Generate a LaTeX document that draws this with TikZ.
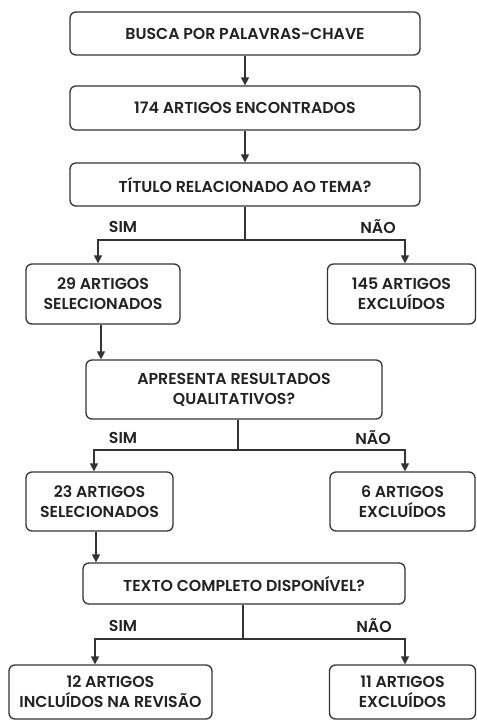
\documentclass[tikz,border=0pt]{standalone}
\usepackage{fontspec}
\setmainfont{Poppins}[BoldFont={* SemiBold}]
\usetikzlibrary{arrows.meta}
\definecolor{ink}{HTML}{222222}
\definecolor{line}{HTML}{333333}
\tikzset{
  box/.style={draw=line, line width=1.3pt, rounded corners=6pt, align=center,
    font=\bfseries\fontsize{15.8}{20}\selectfont, text=ink, inner sep=0pt},
  conn/.style={draw=line, line width=1.3pt},
  arr/.style={conn, -{Triangle[length=8pt,width=8pt]}},
  lbl/.style={font=\bfseries\fontsize{15.8}{18}\selectfont, text=ink, inner sep=0pt}
}
\begin{document}
\begin{tikzpicture}[x=1pt,y=-1pt]
\useasboundingbox[fill=white] (0,0) rectangle (477,721);
% boxes
\node[box, minimum width=350pt, minimum height=43pt] (b1) at (245,33.5) {BUSCA POR PALAVRAS-CHAVE};
\node[box, minimum width=350pt, minimum height=44pt] (b2) at (245,108) {174 ARTIGOS ENCONTRADOS};
\node[box, minimum width=350pt, minimum height=43pt] (b3) at (245,184.5) {TÍTULO RELACIONADO AO TEMA?};
\node[box, minimum width=154pt, minimum height=60pt] (b4) at (103,294) {29 ARTIGOS\\SELECIONADOS};
\node[box, minimum width=148pt, minimum height=60pt] (b5) at (401.5,294) {145 ARTIGOS\\EXCLUÍDOS};
\node[box, minimum width=296pt, minimum height=59pt] (b6) at (234,389.5) {APRESENTA RESULTADOS\\QUALITATIVOS?};
\node[box, minimum width=147pt, minimum height=59pt] (b7) at (99.5,501.5) {23 ARTIGOS\\SELECIONADOS};
\node[box, minimum width=145pt, minimum height=59pt] (b8) at (402.5,501.5) {6 ARTIGOS\\EXCLUÍDOS};
\node[box, minimum width=322pt, minimum height=41pt] (b9) at (244,583.5) {TEXTO COMPLETO DISPONÍVEL?};
\node[box, minimum width=203pt, minimum height=54pt] (b10) at (110.5,692) {12 ARTIGOS\\INCLUÍDOS NA REVISÃO};
\node[box, minimum width=146pt, minimum height=54pt] (b11) at (402.5,692) {11 ARTIGOS\\EXCLUÍDOS};
% junctions
\coordinate (j1) at (245,240);
\coordinate (j2) at (238,450);
\coordinate (j3) at (243,639);
% straight connectors
\draw[arr] (b1) -- (b2);
\draw[arr] (b2) -- (b3);
\draw[arr] ([xshift=-2pt]b4.south) -- ([xshift=-2pt]b4.south |- b6.north);
\draw[arr] ([xshift=-3.5pt]b7.south) -- ([xshift=-3.5pt]b7.south |- b9.north);
% split 1
\draw[conn] (b3.south -| j1) -- (j1);
\draw[arr] (j1) -| ([xshift=-5pt]b4.north);
\draw[arr] (j1) -| ([xshift=3.5pt]b5.north);
% split 2
\draw[conn] (b6.south -| j2) -- (j2);
\draw[arr] (j2) -| ([xshift=-5.5pt]b7.north);
\draw[arr] (j2) -| ([xshift=2.5pt]b8.north);
% split 3
\draw[conn] (b9.south -| j3) -- (j3);
\draw[arr] (j3) -| ([xshift=-15.5pt]b10.north);
\draw[arr] (j3) -| ([xshift=2.5pt]b11.north);
% labels
\node[lbl] (s1) at (123,227) {SIM};
\node[lbl] (n1) at (378,227) {NÃO};
\node[lbl] (s2) at (123,438) {SIM};
\node[lbl] (n2) at (373,438) {NÃO};
\node[lbl] (s3) at (123,626) {SIM};
\node[lbl] (n3) at (374,626) {NÃO};
\end{tikzpicture}
\end{document}
